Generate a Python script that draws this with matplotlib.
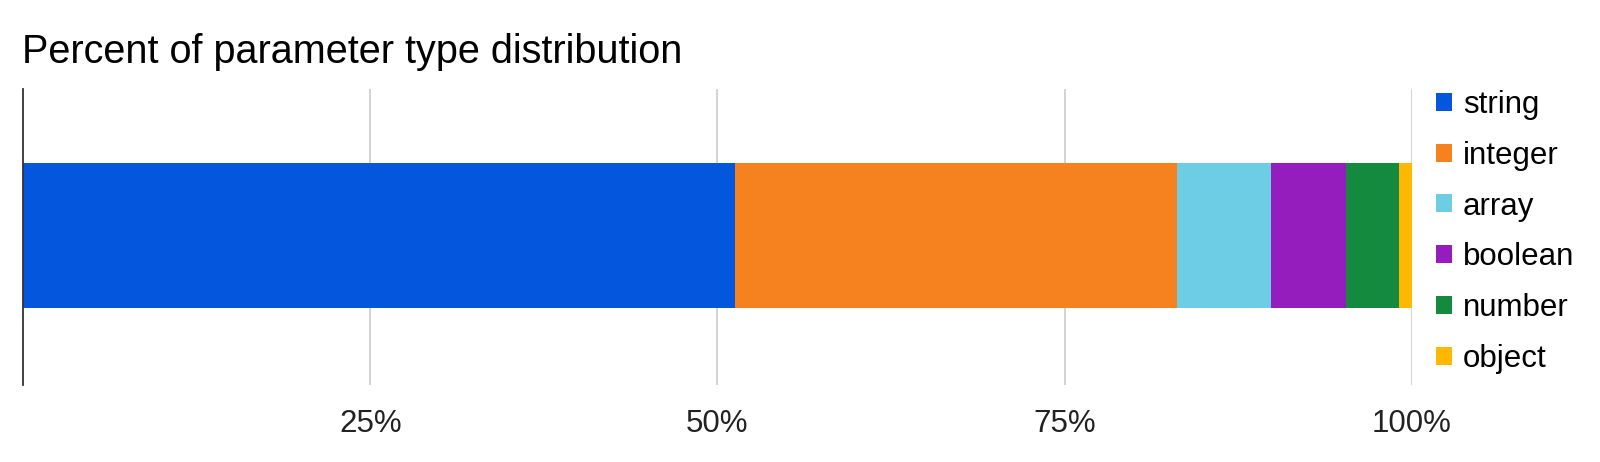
import matplotlib
matplotlib.use("Agg")
import matplotlib.pyplot as plt
from matplotlib.patches import Patch

plt.rcParams['font.family'] = ['Liberation Sans', 'DejaVu Sans']

categories = ["string", "integer", "array", "boolean", "number", "object"]
percents = [51.3, 31.8, 6.8, 5.35, 3.85, 0.9]
colors = ["#0457DC", "#F5821F", "#6DCDE4", "#951DBE", "#138A3E", "#FFB800"]
tick_values = [25, 50, 75, 100]
tick_labels = ["25%", "50%", "75%", "100%"]
title = "Percent of parameter type distribution"

W, H = 1600, 462
fig = plt.figure(figsize=(W / 100, H / 100), dpi=100)
ax = fig.add_axes([23.1 / W, 1 - 385 / H, (1411.7 - 23.1) / W, (385 - 89) / H])

left = 0.0
for cat, val, col in zip(categories, percents, colors):
    ax.barh(0.504, val, left=left, height=0.49, color=col, edgecolor="none",
            label=cat, zorder=2)
    left += val

ax.set_xlim(0, 100)
ax.set_ylim(0, 1)
ax.set_xticks(tick_values)
ax.set_xticklabels(tick_labels, fontsize=22.5, color="#222222")
ax.tick_params(axis="x", length=0, pad=17.5)
ax.set_yticks([])
ax.grid(axis="x", color="#cccccc", linewidth=1.2, zorder=0)
ax.set_axisbelow(True)
for s in ["top", "right", "bottom"]:
    ax.spines[s].set_visible(False)
ax.spines["left"].set_color("#333333")
ax.spines["left"].set_linewidth(1.3)

fig.text(22.4 / W, 1 - 63 / H, title, fontsize=28.5, color="#000000",
         ha="left", va="baseline")

handles = [Patch(facecolor=c, edgecolor="none") for c in colors]
fig.legend(handles, categories, loc="upper left",
           bbox_to_anchor=(1435.7 / W, 1 - 90 / H), frameon=False,
           fontsize=22.5, handlelength=0.51, handleheight=0.51,
           handletextpad=0.36, labelspacing=0.665, borderpad=0,
           borderaxespad=0)

fig.savefig("out.png", dpi=100)
